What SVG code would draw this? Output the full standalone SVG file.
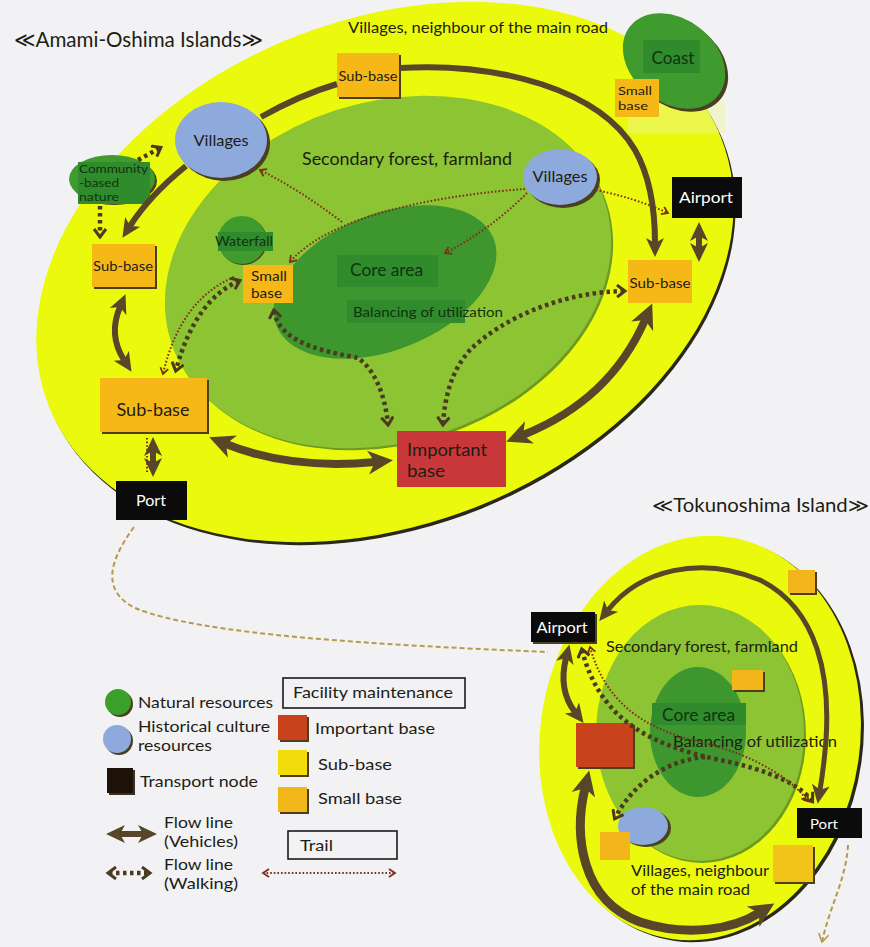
<svg xmlns="http://www.w3.org/2000/svg" width="870" height="947" viewBox="0 0 870 947">
<defs>
<style>
text{font-family:Lato,"Noto Sans","DejaVu Sans",sans-serif;fill:#1d1d14}
.yel{fill:#ebfa0c}
.lg{fill:#8cc433}
.dg{fill:#3d962e}
.lab{fill:#2f8b2b}
.nat{fill:#3f9b2d}
.blue{fill:#8ea9dc}
.org{fill:#f6b817}
.red{fill:#c8383b}
.blk{fill:#0b0b0b}
.sh{fill:#4a4020}
.dk{fill:#0f3310}
.wt{fill:#ffffff}
.veh{fill:none;stroke:#574628}
.walk{fill:none;stroke:#4a3a1f;stroke-width:4.5;stroke-dasharray:3.5 3.5}
.trail{fill:none;stroke:#7d2e1c;stroke-width:2;stroke-dasharray:1.6 2}
.sea{fill:none;stroke:#b59a4d;stroke-width:2;stroke-dasharray:5 3}
.box{fill:none;stroke:#1a1a1a;stroke-width:1.6}
</style>
<marker id="ah" markerUnits="userSpaceOnUse" markerWidth="20" markerHeight="20" viewBox="0 0 20 20" refX="5" refY="10" orient="auto-start-reverse"><path d="M0,1 L19,10 L0,19 L5,10 z" fill="#574628"/></marker>
<marker id="ahL" markerUnits="userSpaceOnUse" markerWidth="26" markerHeight="26" viewBox="0 0 26 26" refX="7" refY="13" orient="auto-start-reverse"><path d="M0,1 L25,13 L0,25 L7,13 z" fill="#574628"/></marker>
<marker id="wh" markerUnits="userSpaceOnUse" markerWidth="12" markerHeight="14" viewBox="0 0 12 14" refX="8" refY="7" orient="auto-start-reverse"><path d="M1,1 L9,7 L1,13" fill="none" stroke="#4a3a1f" stroke-width="3"/></marker>
<marker id="th" markerUnits="userSpaceOnUse" markerWidth="9" markerHeight="10" viewBox="0 0 9 10" refX="7" refY="5" orient="auto-start-reverse"><path d="M1,1 L7,5 L1,9" fill="none" stroke="#7d2e1c" stroke-width="1.8"/></marker>
<marker id="sh" markerUnits="userSpaceOnUse" markerWidth="12" markerHeight="12" viewBox="0 0 12 12" refX="9" refY="6" orient="auto"><path d="M1,1 L9,6 L1,11" fill="none" stroke="#b59a4d" stroke-width="1.6"/></marker>
</defs>

<rect width="870" height="947" fill="#f2f2f4"/>

<!-- Amami-Oshima zoning -->
<g id="amami-zones">
<ellipse cx="387" cy="275" rx="362" ry="252" transform="rotate(-22 387 275)" fill="#2a2818"/>
<ellipse cx="385" cy="272" rx="362" ry="252" transform="rotate(-22 385 272)" class="yel"/>
<rect x="628" y="100" width="97" height="33" fill="#eef59a" opacity="0.45"/>
<ellipse cx="390" cy="274" rx="228" ry="170" transform="rotate(-18 390 274)" fill="#6f9a22"/>
<ellipse cx="388" cy="272" rx="228" ry="170" transform="rotate(-18 388 272)" class="lg"/>
<ellipse cx="385" cy="282" rx="117" ry="68" transform="rotate(-22 385 282)" class="dg"/>
<rect x="337" y="255" width="101" height="32" class="lab"/>
<rect x="347" y="300" width="118" height="23" class="lab"/>
<text x="302" y="165" font-size="17" textLength="210" lengthAdjust="spacingAndGlyphs">Secondary forest, farmland</text>
<text x="350" y="276" font-size="17" textLength="73" lengthAdjust="spacingAndGlyphs" class="dk">Core area</text>
<text x="353" y="317" font-size="14" textLength="150" lengthAdjust="spacingAndGlyphs" class="dk">Balancing of utilization</text>
<text x="348" y="33" font-size="15" textLength="260" lengthAdjust="spacingAndGlyphs">Villages, neighbour of the main road</text>
</g>

<!-- Tokunoshima zoning -->
<g id="tokunoshima-zones">
<ellipse cx="703" cy="740" rx="160" ry="203" transform="rotate(8 703 740)" fill="#2a2818"/>
<ellipse cx="700" cy="738" rx="160" ry="203" transform="rotate(8 700 738)" class="yel"/>
<ellipse cx="702" cy="735" rx="104" ry="128" fill="#6f9a22"/>
<ellipse cx="700" cy="733" rx="104" ry="128" class="lg"/>
<ellipse cx="698" cy="732" rx="48" ry="65" class="dg"/>
<rect x="652" y="703" width="94" height="22" class="lab"/>
<text x="606" y="652" font-size="16" textLength="192" lengthAdjust="spacingAndGlyphs">Secondary forest, farmland</text>
<text x="662" y="721" font-size="17" textLength="73" lengthAdjust="spacingAndGlyphs" class="dk">Core area</text>
<text x="673" y="747" font-size="15" textLength="164" lengthAdjust="spacingAndGlyphs">Balancing of utilization</text>
<text x="631" y="876" font-size="15" textLength="138" lengthAdjust="spacingAndGlyphs">Villages, neighbour</text>
<text x="631" y="895" font-size="15" textLength="119" lengthAdjust="spacingAndGlyphs">of the main road</text>
</g>

<!-- titles -->
<text id="title-amami" x="14" y="47" font-size="21" textLength="249" lengthAdjust="spacingAndGlyphs">≪Amami-Oshima Islands≫</text>
<text id="title-tokunoshima" x="652" y="512" font-size="19" textLength="217" lengthAdjust="spacingAndGlyphs">≪Tokunoshima Island≫</text>

<!-- Amami-Oshima nodes -->
<g id="coast">
<ellipse cx="677" cy="64" rx="56" ry="42" transform="rotate(38 677 64)" class="sh"/>
<ellipse cx="674" cy="61" rx="56" ry="42" transform="rotate(38 674 61)" class="nat"/>
<rect x="643" y="40" width="57" height="33" class="lab"/>
<text x="673" y="64" text-anchor="middle" font-size="17" textLength="43" lengthAdjust="spacingAndGlyphs" class="dk">Coast</text>
</g>
<g id="small-base-coast">
<rect x="615" y="79" width="44" height="38" class="org"/>
<text x="618" y="95" font-size="12" textLength="34" lengthAdjust="spacingAndGlyphs">Small</text>
<text x="618" y="110" font-size="12" textLength="30" lengthAdjust="spacingAndGlyphs">base</text>
</g>
<g id="sub-base-north">
<rect x="339" y="55" width="62" height="44" class="sh"/>
<rect x="337" y="53" width="62" height="44" class="org"/>
<text x="368" y="81" text-anchor="middle" font-size="14" textLength="59" lengthAdjust="spacingAndGlyphs">Sub-base</text>
</g>
<g id="villages-west">
<ellipse cx="224" cy="143" rx="46" ry="38" class="sh"/>
<ellipse cx="221" cy="140" rx="46" ry="38" class="blue"/>
<text x="221" y="146" text-anchor="middle" font-size="16" textLength="55" lengthAdjust="spacingAndGlyphs">Villages</text>
</g>
<g id="villages-east">
<ellipse cx="563" cy="180" rx="37" ry="28" class="sh"/>
<ellipse cx="560" cy="177" rx="37" ry="28" class="blue"/>
<text x="560" y="182" text-anchor="middle" font-size="15" textLength="55" lengthAdjust="spacingAndGlyphs">Villages</text>
</g>
<g id="community-nature">
<ellipse cx="114" cy="181" rx="43" ry="24" class="sh"/>
<ellipse cx="112" cy="179" rx="43" ry="24" class="nat"/>
<rect x="78" y="162" width="72" height="42" class="lab"/>
<text x="79" y="173" font-size="11.5" textLength="69" lengthAdjust="spacingAndGlyphs" class="dk">Community</text>
<text x="79" y="187" font-size="11.5" textLength="40" lengthAdjust="spacingAndGlyphs" class="dk">-based</text>
<text x="79" y="201" font-size="11.5" textLength="40" lengthAdjust="spacingAndGlyphs" class="dk">nature</text>
</g>
<g id="waterfall">
<circle cx="243" cy="241" r="24" class="sh"/>
<circle cx="242" cy="240" r="24" class="nat"/>
<rect x="218" y="232" width="55" height="19" class="lab"/>
<text x="244" y="246" text-anchor="middle" font-size="13" textLength="58" lengthAdjust="spacingAndGlyphs" class="dk">Waterfall</text>
</g>
<g id="small-base-center">
<rect x="243" y="265" width="50" height="38" class="org"/>
<text x="251" y="281" font-size="13.5" textLength="36" lengthAdjust="spacingAndGlyphs">Small</text>
<text x="251" y="298" font-size="13.5" textLength="31" lengthAdjust="spacingAndGlyphs">base</text>
</g>
<g id="sub-base-west">
<rect x="94" y="246" width="63" height="43" class="sh"/>
<rect x="92" y="244" width="63" height="43" class="org"/>
<text x="123" y="271" text-anchor="middle" font-size="14" textLength="60" lengthAdjust="spacingAndGlyphs">Sub-base</text>
</g>
<g id="sub-base-southwest">
<rect x="102" y="380" width="107" height="54" class="sh"/>
<rect x="100" y="378" width="107" height="54" class="org"/>
<text x="153" y="416" text-anchor="middle" font-size="17" textLength="73" lengthAdjust="spacingAndGlyphs">Sub-base</text>
</g>
<g id="sub-base-east">
<rect x="628" y="260" width="64" height="43" class="org"/>
<text x="660" y="288" text-anchor="middle" font-size="14" textLength="61" lengthAdjust="spacingAndGlyphs">Sub-base</text>
</g>
<g id="important-base-amami">
<rect x="397" y="431" width="109" height="56" class="red"/>
<text x="407" y="456" font-size="17" textLength="80" lengthAdjust="spacingAndGlyphs" fill="#4a0c0c">Important</text>
<text x="407" y="477" font-size="17" textLength="38" lengthAdjust="spacingAndGlyphs" fill="#4a0c0c">base</text>
</g>
<g id="port-amami">
<rect x="116" y="481" width="71" height="39" class="blk"/>
<text x="151" y="506" text-anchor="middle" font-size="15" textLength="30" lengthAdjust="spacingAndGlyphs" class="wt">Port</text>
</g>
<g id="airport-amami">
<rect x="672" y="177" width="70" height="41" class="blk"/>
<text x="706" y="203" text-anchor="middle" font-size="16" textLength="54" lengthAdjust="spacingAndGlyphs" class="wt">Airport</text>
</g>

<!-- Tokunoshima nodes -->
<g id="airport-toku">
<rect x="533" y="614" width="64" height="30" class="sh"/>
<rect x="531" y="612" width="64" height="30" class="blk"/>
<text x="562" y="633" text-anchor="middle" font-size="15" textLength="51" lengthAdjust="spacingAndGlyphs" class="wt">Airport</text>
</g>
<g id="port-toku">
<rect x="797" y="808" width="65" height="30" class="blk"/>
<text x="824" y="829" text-anchor="middle" font-size="14" textLength="28" lengthAdjust="spacingAndGlyphs" class="wt">Port</text>
</g>
<g id="important-base-toku">
<rect x="578" y="725" width="57" height="44" class="sh"/>
<rect x="576" y="723" width="57" height="44" fill="#c8431c"/>
</g>
<g id="small-base-toku-north">
<rect x="790" y="572" width="27" height="23" class="sh"/>
<rect x="788" y="570" width="27" height="23" fill="#f2b51a"/>
</g>
<g id="small-base-toku-core">
<rect x="734" y="672" width="31" height="20" class="sh"/>
<rect x="732" y="670" width="31" height="20" fill="#f2b51a"/>
</g>
<g id="villages-toku">
<ellipse cx="646" cy="828" rx="25" ry="19" class="sh"/>
<ellipse cx="643" cy="826" rx="25" ry="19" class="blue"/>
</g>
<g id="small-base-toku-west">
<rect x="600" y="832" width="30" height="28" fill="#f2b51a"/>
</g>
<g id="sub-base-toku-south">
<rect x="775" y="847" width="40" height="37" class="sh"/>
<rect x="773" y="845" width="40" height="37" fill="#f2c318"/>
</g>

<!-- flow lines -->
<g id="connectors">
<!-- vehicles, Amami -->
<path class="veh" stroke-width="6" marker-end="url(#ah)" d="M399,68 C500,62 600,90 635,150 C652,180 655,215 655,243"/>
<path class="veh" stroke-width="6" d="M337,84 Q300,95 261,117"/>
<path class="veh" stroke-width="6" marker-end="url(#ah)" d="M186,166 Q150,195 130,226"/>
<path class="veh" stroke-width="6" marker-start="url(#ah)" marker-end="url(#ah)" d="M699,236 L699,248"/>
<path class="veh" stroke-width="6" marker-start="url(#ah)" marker-end="url(#ah)" d="M120,307 Q108,335 124,360"/>
<path class="veh" stroke-width="6" marker-start="url(#ah)" marker-end="url(#ah)" d="M153,451 L153,463"/>
<path class="veh" stroke-width="8" marker-start="url(#ahL)" marker-end="url(#ahL)" d="M226,444 Q290,470 375,462"/>
<path class="veh" stroke-width="8" marker-start="url(#ahL)" marker-end="url(#ahL)" d="M523,435 Q610,400 645,320"/>
<!-- walking, Amami -->
<path class="walk" marker-end="url(#wh)" d="M138,160 L160,148"/>
<path class="walk" marker-end="url(#wh)" d="M100,206 L100,236"/>
<path class="walk" marker-start="url(#wh)" marker-end="url(#wh)" d="M239,281 Q195,300 176,370"/>
<path class="walk" marker-start="url(#wh)" marker-end="url(#wh)" d="M274,311 C280,345 330,352 358,358 C375,370 385,395 388,424"/>
<path class="walk" marker-start="url(#wh)" marker-end="url(#wh)" d="M624,291 C560,292 500,320 470,350 C452,370 445,395 443,424"/>
<!-- trails, Amami -->
<path class="trail" marker-end="url(#th)" d="M234,277 Q180,300 163,374"/>
<path class="trail" d="M147,438 L147,472"/>
<path class="trail" marker-end="url(#th)" d="M342,222 Q300,190 260,170"/>
<path class="trail" marker-end="url(#th)" d="M525,189 C440,195 330,215 290,262"/>
<path class="trail" marker-end="url(#th)" d="M527,193 Q490,230 445,253"/>
<path class="trail" marker-end="url(#th)" d="M596,190 Q635,198 668,213"/>
<!-- sea route between islands -->
<path class="sea" d="M134,527 C110,560 100,590 135,608 C200,635 380,645 548,652"/>
<path class="sea" marker-end="url(#sh)" d="M848,845 C846,880 830,905 822,942"/>
<!-- vehicles, Tokunoshima -->
<path class="veh" stroke-width="5" marker-start="url(#ah)" marker-end="url(#ah)" d="M608,610 C640,570 700,555 760,580 C820,610 830,680 826,740 C824,765 822,778 820,790"/>
<path class="veh" stroke-width="6" marker-start="url(#ah)" marker-end="url(#ah)" d="M566,658 Q558,690 575,712"/>
<path class="veh" stroke-width="9" marker-start="url(#ahL)" marker-end="url(#ahL)" d="M585,788 C574,834 580,900 640,922 C690,938 735,928 759,913"/>
<!-- walking and trails, Tokunoshima -->
<path class="walk" marker-start="url(#wh)" marker-end="url(#wh)" d="M582,650 C600,720 650,745 720,760 C770,770 800,785 812,801"/>
<path class="walk" marker-end="url(#wh)" d="M705,757 C670,760 635,780 615,818"/>
<path class="trail" marker-start="url(#th)" marker-end="url(#th)" d="M590,647 C605,700 640,728 700,742 C760,756 795,783 808,801"/>
</g>

<!-- legend -->
<g id="legend">
<circle cx="120" cy="704" r="13" class="sh"/>
<circle cx="118" cy="702" r="13" fill="#3aa02a"/>
<text x="138" y="708" font-size="16" textLength="135" lengthAdjust="spacingAndGlyphs">Natural resources</text>
<circle cx="119" cy="741" r="14" class="sh"/>
<circle cx="117" cy="739" r="14" class="blue"/>
<text x="138" y="732" font-size="15" textLength="132" lengthAdjust="spacingAndGlyphs">Historical culture</text>
<text x="138" y="751" font-size="15" textLength="74" lengthAdjust="spacingAndGlyphs">resources</text>
<rect x="109" y="770" width="26" height="25" fill="#3a3220"/>
<rect x="107" y="768" width="26" height="25" fill="#1e1208"/>
<text x="140" y="787" font-size="16" textLength="118" lengthAdjust="spacingAndGlyphs">Transport node</text>
<path class="veh" stroke-width="6" marker-start="url(#ah)" marker-end="url(#ah)" d="M120,834 L143,834"/>
<text x="164" y="828" font-size="15" textLength="69" lengthAdjust="spacingAndGlyphs">Flow line</text>
<text x="164" y="847" font-size="15" textLength="74" lengthAdjust="spacingAndGlyphs">(Vehicles)</text>
<path class="walk" marker-start="url(#wh)" marker-end="url(#wh)" d="M109,873 L149,873"/>
<text x="164" y="870" font-size="15" textLength="69" lengthAdjust="spacingAndGlyphs">Flow line</text>
<text x="164" y="889" font-size="15" textLength="74" lengthAdjust="spacingAndGlyphs">(Walking)</text>
<rect x="283" y="678" width="182" height="30" class="box"/>
<text x="293" y="698" font-size="16" textLength="160" lengthAdjust="spacingAndGlyphs">Facility maintenance</text>
<rect x="280" y="717" width="29" height="25" class="sh"/>
<rect x="278" y="715" width="29" height="25" fill="#c8421c"/>
<text x="315" y="734" font-size="16" textLength="120" lengthAdjust="spacingAndGlyphs">Important base</text>
<rect x="280" y="752" width="29" height="25" class="sh"/>
<rect x="278" y="750" width="29" height="25" fill="#f2dc0a"/>
<text x="318" y="770" font-size="16" textLength="74" lengthAdjust="spacingAndGlyphs">Sub-base</text>
<rect x="280" y="789" width="29" height="25" class="sh"/>
<rect x="278" y="787" width="29" height="25" fill="#f2b81a"/>
<text x="318" y="804" font-size="16" textLength="84" lengthAdjust="spacingAndGlyphs">Small base</text>
<rect x="288" y="831" width="109" height="28" class="box"/>
<text x="300" y="851" font-size="16" textLength="33" lengthAdjust="spacingAndGlyphs">Trail</text>
<path class="trail" marker-start="url(#th)" marker-end="url(#th)" d="M263,873 L395,873"/>
</g>
</svg>
